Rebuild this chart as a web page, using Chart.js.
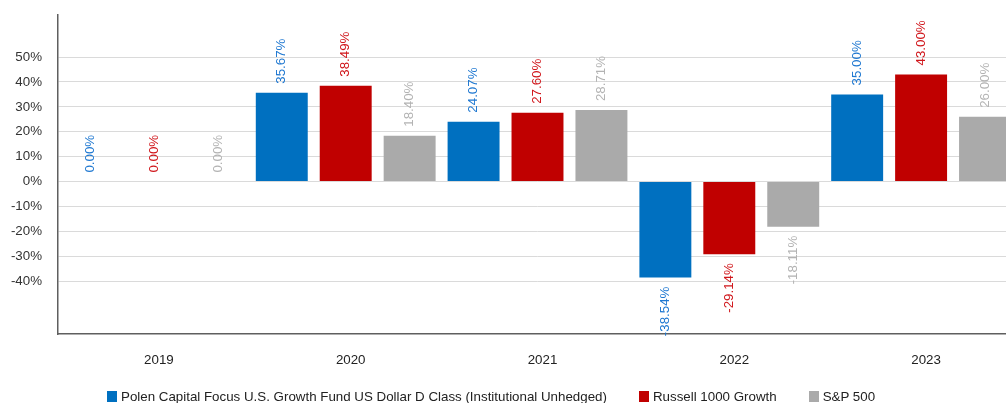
<!DOCTYPE html>
<html>
<head>
<meta charset="utf-8">
<script src="https://cdn.jsdelivr.net/npm/chart.js@4/dist/chart.umd.min.js"></script>
<style>
  html, body { margin: 0; padding: 0; background: #fff; overflow: hidden; width: 1006px; height: 403px; }
  #c { position: absolute; left: 0; top: 0; }
  #legend { position: absolute; left: 107px; top: 389px; display: flex; align-items: center;
            font: 13.33px "Liberation Sans", Arial, sans-serif; color: #222; white-space: nowrap; }
  #legend .item { display: flex; align-items: center; margin-right: 32px; }
  #legend .box { width: 10px; height: 11px; margin-right: 4px; }
</style>
</head>
<body>
<canvas id="c" width="1017" height="403"></canvas>
<div id="legend"></div>
<script>
const categories = ['2019', '2020', '2021', '2022', '2023'];
const seriesNames = ['Polen Capital Focus U.S. Growth Fund US Dollar D Class (Institutional Unhedged)', 'Russell 1000 Growth', 'S&P 500'];
const polenValues = [0.00, 35.67, 24.07, -38.54, 35.00];
const russellValues = [0.00, 38.49, 27.60, -29.14, 43.00];
const spValues = [0.00, 18.40, 28.71, -18.11, 26.00];
const yTickValues = [-40, -30, -20, -10, 0, 10, 20, 30, 40, 50];
const barColors = ['#0070c0', '#c00000', '#aaaaaa'];
const labelColors = ['#1f78d1', '#d0161b', '#b3b3b3'];

const FONT = '"Liberation Sans", Arial, sans-serif';
const FS = 13.33;

const labelPlugin = {
  id: 'valueLabels',
  afterDatasetsDraw(chart) {
    const ctx = chart.ctx;
    chart.data.datasets.forEach((ds, i) => {
      const meta = chart.getDatasetMeta(i);
      meta.data.forEach((bar, j) => {
        const v = ds.data[j];
        ctx.save();
        ctx.translate(bar.x, v >= 0 ? bar.y - 9 : bar.y + 9);
        ctx.rotate(-Math.PI / 2);
        ctx.textAlign = v >= 0 ? 'left' : 'right';
        ctx.textBaseline = 'middle';
        ctx.font = FS + 'px ' + FONT;
        ctx.fillStyle = labelColors[i];
        ctx.fillText(v.toFixed(2) + '%', 0, 0);
        ctx.restore();
      });
    });
  }
};

const allSeries = [polenValues, russellValues, spValues];
new Chart(document.getElementById('c'), {
  type: 'bar',
  data: {
    labels: categories,
    datasets: allSeries.map((d, i) => ({
      label: seriesNames[i],
      data: d,
      backgroundColor: barColors[i],
      borderWidth: 0,
      barPercentage: 0.8125,
      categoryPercentage: 1.0
    }))
  },
  options: {
    responsive: false,
    animation: false,
    layout: { padding: { left: 11, right: 0, top: 15, bottom: 35 } },
    plugins: {
      legend: { display: false },
      tooltip: { enabled: false }
    },
    scales: {
      x: {
        grid: { display: false, drawTicks: false },
        border: { display: true, color: '#5f5f5f', width: 1.5 },
        ticks: { color: '#222', font: { family: FONT, size: FS }, padding: 18, labelOffset: 5, maxRotation: 0 },
        afterFit: s => { s.height = 34; s.paddingLeft = 0; s.paddingRight = 0; }
      },
      y: {
        min: -61.2,
        max: 66.9,
        afterBuildTicks: axis => { axis.ticks = yTickValues.map(v => ({ value: v })); },
        grid: { color: '#dadada', lineWidth: 1, drawTicks: false },
        border: { display: true, color: '#5f5f5f', width: 1.5 },
        ticks: { color: '#333', font: { family: FONT, size: FS }, padding: 16, callback: v => v + '%' },
        afterFit: s => { s.width = 47; s.paddingTop = 0; s.paddingBottom = 0; }
      }
    }
  },
  plugins: [labelPlugin]
});

const legend = document.getElementById('legend');
seriesNames.forEach((n, i) => {
  const it = document.createElement('div');
  it.className = 'item';
  const b = document.createElement('span');
  b.className = 'box';
  b.style.background = barColors[i];
  const t = document.createElement('span');
  t.textContent = n;
  it.appendChild(b); it.appendChild(t);
  legend.appendChild(it);
});
</script>
</body>
</html>
